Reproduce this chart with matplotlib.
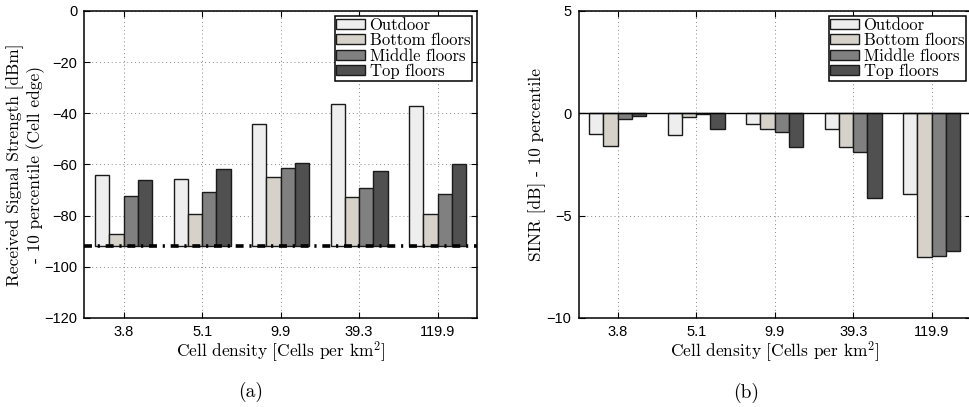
import numpy as np
import matplotlib
matplotlib.use('Agg')
import matplotlib.pyplot as plt

plt.rcParams['font.family'] = 'Liberation Sans'
plt.rcParams['mathtext.fontset'] = 'cm'
plt.rcParams['axes.unicode_minus'] = True

serif = 'cmr10'
fs = 12.5

# data
densities = ['3.8', '5.1', '9.9', '39.3', '119.9']
groups = ['Outdoor', 'Bottom floors', 'Middle floors', 'Top floors']

rss = {
    'Outdoor':       [-64.2, -65.6, -44.1, -36.5, -37.1],
    'Bottom floors': [-87.2, -79.2, -64.7, -72.8, -79.2],
    'Middle floors': [-72.5, -70.8, -61.2, -69.1, -71.6],
    'Top floors':    [-66.1, -61.8, -59.6, -62.5, -59.8],
}
rss_base = -92

sinr = {
    'Outdoor':       [-1.02, -1.07, -0.51, -0.77, -3.93],
    'Bottom floors': [-1.59, -0.19, -0.79, -1.65, -7.04],
    'Middle floors': [-0.27, -0.03, -0.92, -1.88, -6.96],
    'Top floors':    [-0.15, -0.79, -1.65, -4.14, -6.72],
}

colors = {'Outdoor': '#eeeeee', 'Bottom floors': '#d6d2ca',
          'Middle floors': '#808080', 'Top floors': '#505050'}

fig = plt.figure(figsize=(9.7, 4.07), dpi=100)
ax1 = fig.add_axes([0.0871, 0.2187, 0.4045, 0.7543])
ax2 = fig.add_axes([0.5964, 0.2187, 0.4045, 0.7543])

x = np.arange(1, len(densities) + 1)
gw = 4 / 5.5
bw = gw / 4


def draw(ax, data, base):
    for i, g in enumerate(groups):
        vals = np.array(data[g])
        xi = x - gw / 2 + bw * (i + 0.5)
        ax.bar(xi, vals - base, bw, bottom=base, color=colors[g],
               edgecolor='#1a1a1a', linewidth=1.0, label=g, zorder=2)
    ax.set_xlim(0.5, 5.5)
    ax.set_xticks(x, densities)
    ax.grid(True, linestyle=(0, (1, 3)), color='#888888', linewidth=0.7)
    ax.set_axisbelow(True)
    ax.tick_params(direction='in', top=True, right=True, length=4,
                   labelsize=10.5, pad=5)
    for s in ax.spines.values():
        s.set_linewidth(1.1)
    ax.set_xlabel('Cell density [Cells per km$^2$]', fontfamily=serif,
                  fontsize=fs, labelpad=0)
    leg = ax.legend(loc='upper right', prop={'family': serif, 'size': 12},
                    fancybox=False, edgecolor='black', framealpha=1,
                    borderpad=0.1, labelspacing=0.0, handlelength=1.75,
                    handleheight=0.55, handletextpad=0.25,
                    borderaxespad=0.3)
    leg.get_frame().set_linewidth(1.1)


# (a) received signal strength
draw(ax1, rss, rss_base)
ax1.set_ylim(-120, 0)
ax1.set_yticks(np.arange(-120, 1, 20))
ax1.axhline(rss_base, color='black', linewidth=2.6,
            linestyle=(0, (2.2, 1.6, 0.6, 1.6)), zorder=3)
ax1.set_ylabel('Received Signal Strength [dBm]\n- 10 percentile (Cell edge)',
               fontfamily=serif, fontsize=fs, linespacing=1.15)
ax1.yaxis.set_label_coords(-0.101, 0.5)

# (b) SINR
draw(ax2, sinr, 0)
ax2.set_ylim(-10, 5)
ax2.set_yticks([-10, -5, 0, 5])
ax2.axhline(0, color='black', linewidth=1.0, zorder=3)
ax2.set_ylabel('SINR [dB] - 10 percentile', fontfamily=serif, fontsize=fs)
ax2.yaxis.set_label_coords(-0.083, 0.5)

fig.text(251 / 970, 1 - 392 / 407, '(a)', ha='center', va='center',
         fontfamily=serif, fontsize=14)
fig.text(746 / 970, 1 - 393 / 407, '(b)', ha='center', va='center',
         fontfamily=serif, fontsize=14)

fig.savefig('out.png', dpi=100)
